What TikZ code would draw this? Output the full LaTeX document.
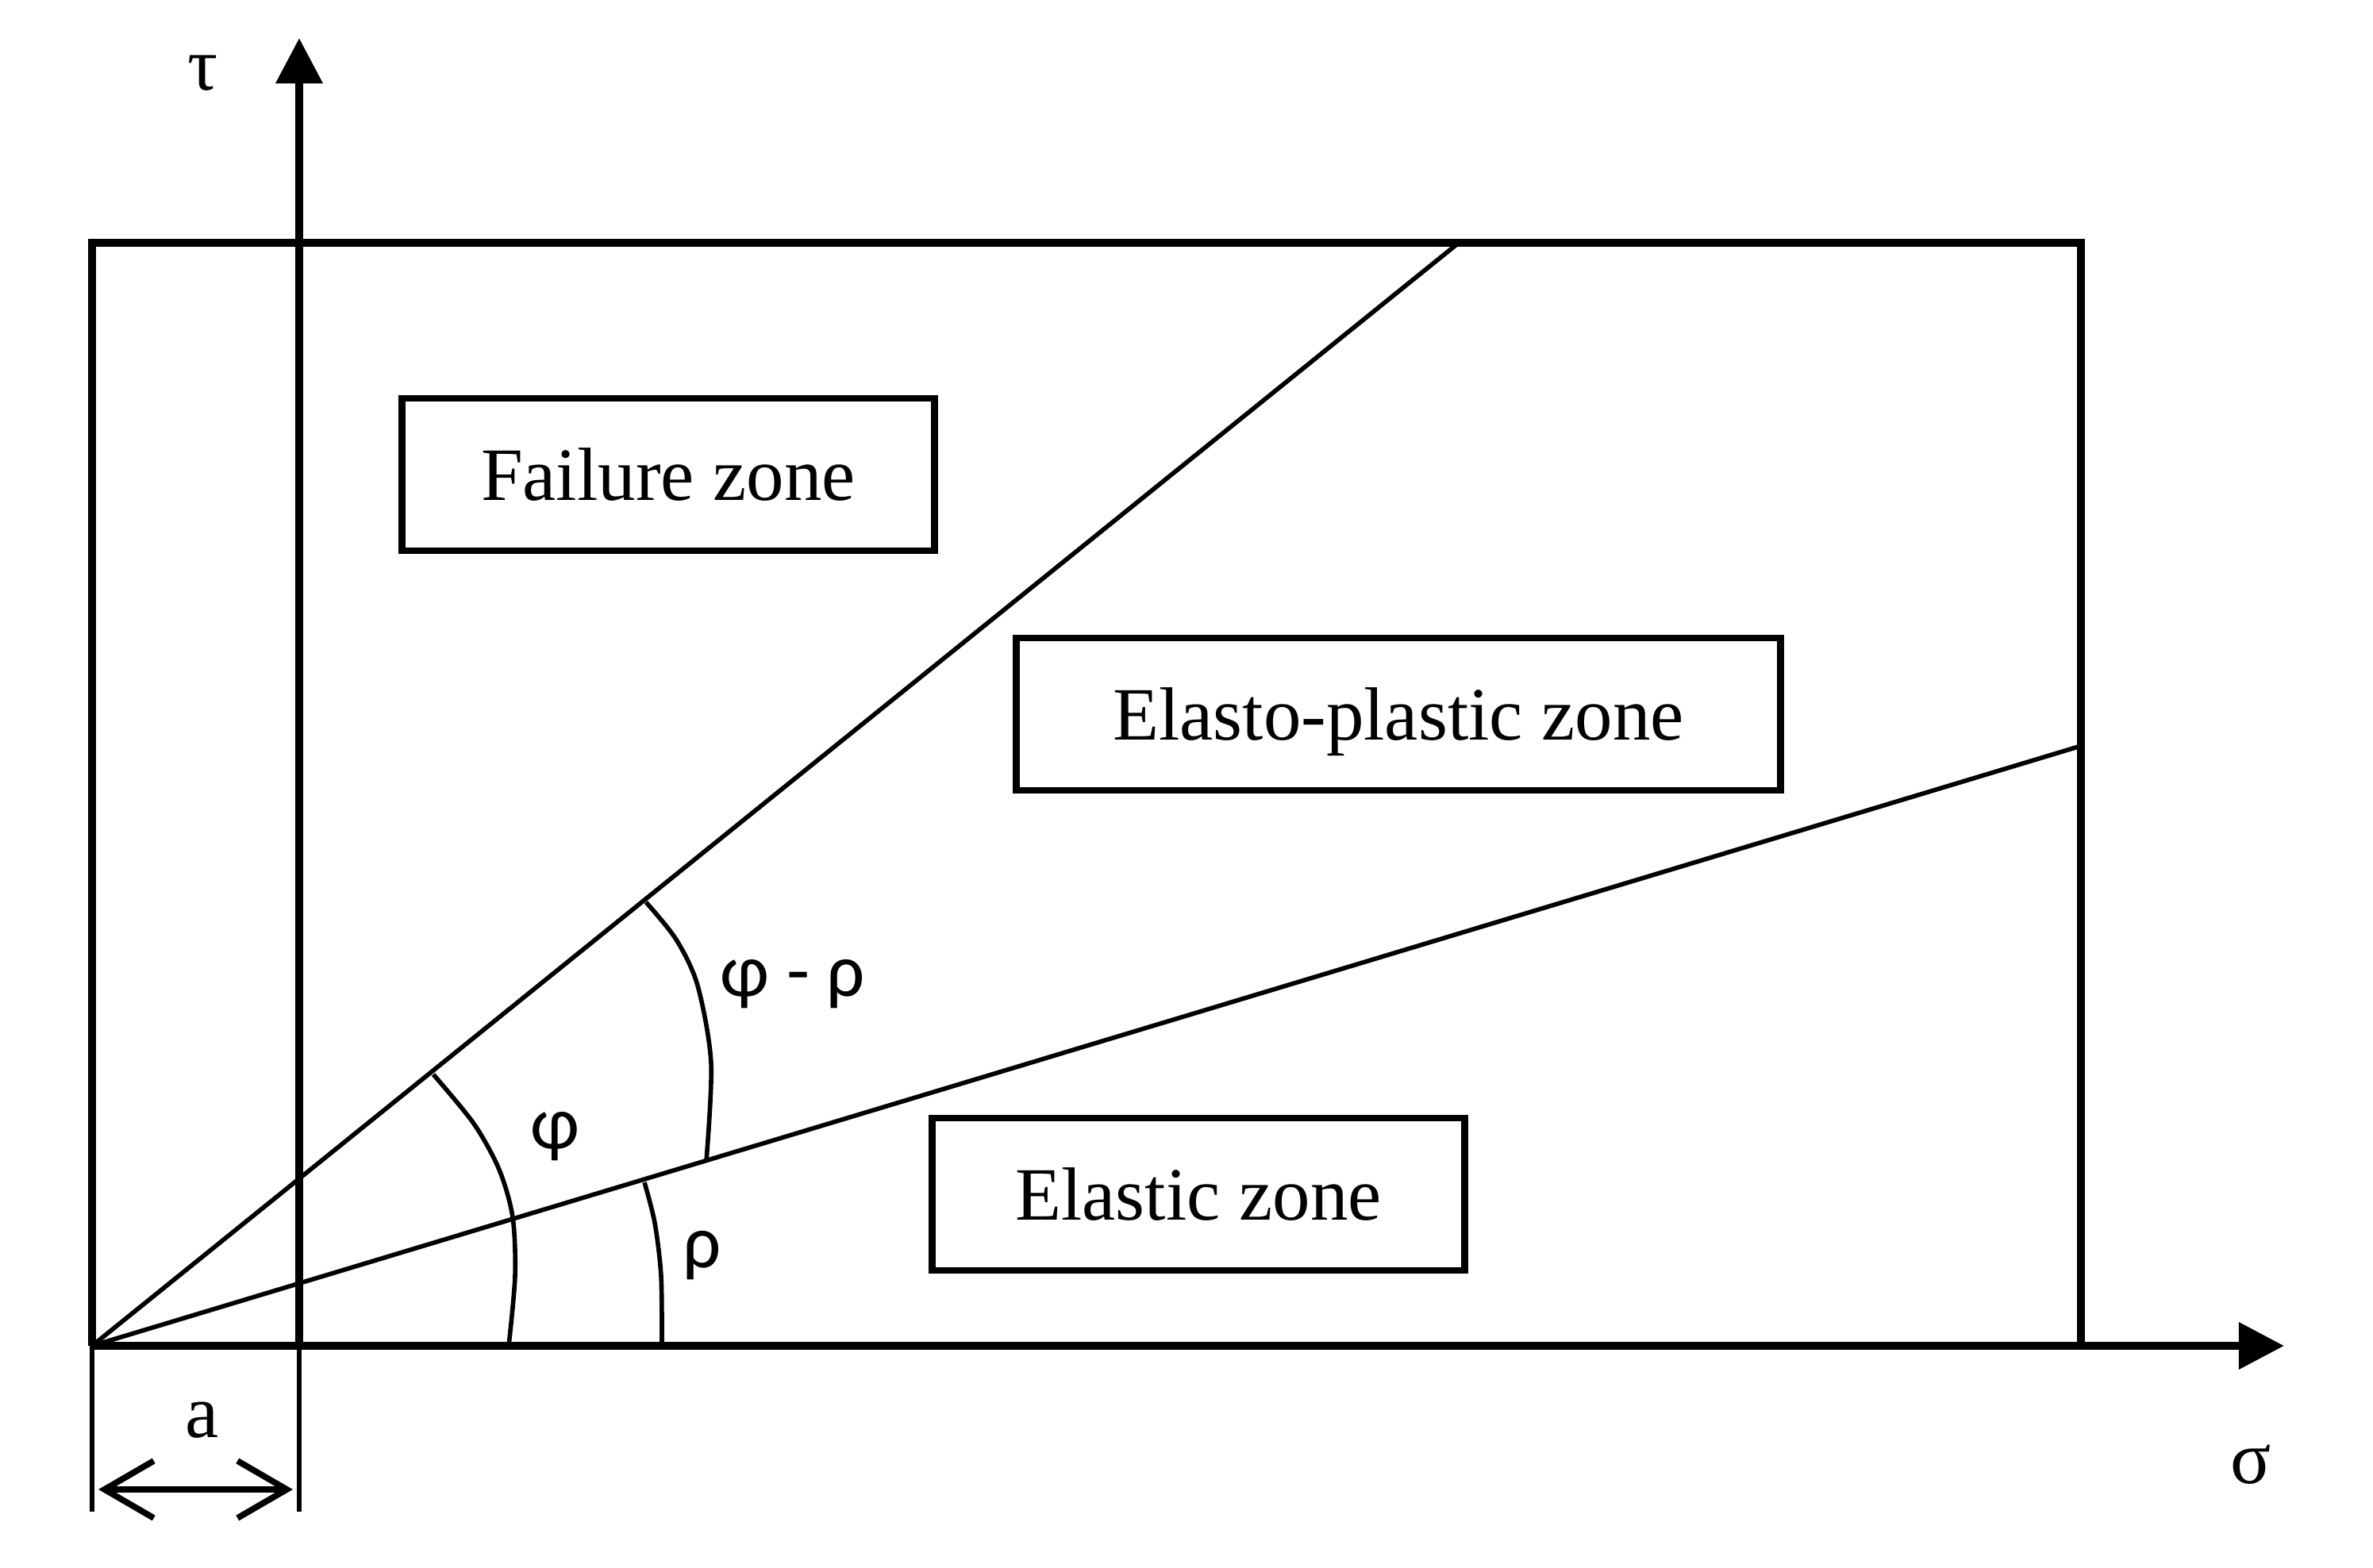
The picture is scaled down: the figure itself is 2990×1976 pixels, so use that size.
\documentclass[tikz,border=0pt]{standalone}
\usepackage{fontspec}
\setmainfont{Liberation Serif}
\newfontfamily\grk{Carlito}
\usetikzlibrary{arrows.meta}
\begin{document}
\begin{tikzpicture}[x=0.01cm,y=-0.01cm,
  thickln/.style={line width=2.85pt},
  thinln/.style={line width=1.6pt},
  zonebox/.style={draw,line width=2.5pt,minimum width=#1,inner sep=0pt,minimum height=1.92cm,text depth=0pt,font=\fontsize{27}{32}\selectfont},
  lbl/.style={font=\fontsize{27}{32}\selectfont,inner sep=0pt},
  glbl/.style={font=\grk\fontsize{27}{32}\selectfont,inner sep=0pt},
  axisarrow/.style={-{Triangle[length=0.57cm,width=0.57cm]}}]
\useasboundingbox (0,0) rectangle (2990,1976);
% key points
\coordinate (O) at (116,1696);
\coordinate (TL) at (116,306);
\coordinate (TR) at (2622,306);
\coordinate (BR) at (2622,1696);
\coordinate (L1) at (1838,306);
\coordinate (L2) at (2622,940);
\coordinate (Ybot) at (377,1905);
\coordinate (Yax) at (377,1696);
\coordinate (Ytop) at (377,48);
\coordinate (Xtip) at (2878,1696);
\coordinate (Obot) at (116,1905);
% frame
\draw[thickln] (O) -- (TL) -- (TR) -- (BR);
% axes
\draw[thickln,axisarrow] (O) -- (Xtip);
\draw[thickln,axisarrow] (Yax) -- (Ytop);
\draw[thinln] (Yax) -- (Ybot);
\draw[thinln] (O) -- (Obot);
% lines
\draw[thinln] (O) -- (L1);
\draw[thinln] (O) -- (L2);
% arcs
\draw[thinln] plot[smooth] coordinates {(641,1696) (649,1608) (646,1534) (629,1474) (597,1416) (546,1354)};
\draw[thinln] plot[smooth] coordinates {(834,1696) (833,1608) (825,1541) (812,1490)};
\draw[thinln] plot[smooth] coordinates {(890,1463) (896,1340) (879,1242) (852,1184) (814,1137)};
% boxes
\node[zonebox=6.7cm] (fz) at (842,598) {Failure zone};
\node[zonebox=9.62cm] (ez) at (1762,900) {Elasto-plastic zone};
\node[zonebox=6.71cm] (elz) at (1510,1505) {Elastic zone};
% labels
\node[lbl] (tau) at (256,92) {τ};
\node[lbl] (sig) at (2836,1846) {σ};
\node[lbl] (a) at (255,1790) {a};
\node[glbl] (phi) at (699,1432) {φ};
\node[glbl] (rho) at (885,1582) {ρ};
\node[glbl] (phirho) at (999,1240) {φ - ρ};
% dimension arrow
\coordinate (da) at (124,1877);
\coordinate (db) at (369,1877);
\draw[line width=2.2pt,{Straight Barb[length=0.62cm,width=0.72cm]}-{Straight Barb[length=0.62cm,width=0.72cm]}] (da) -- (db);
\end{tikzpicture}
\end{document}
